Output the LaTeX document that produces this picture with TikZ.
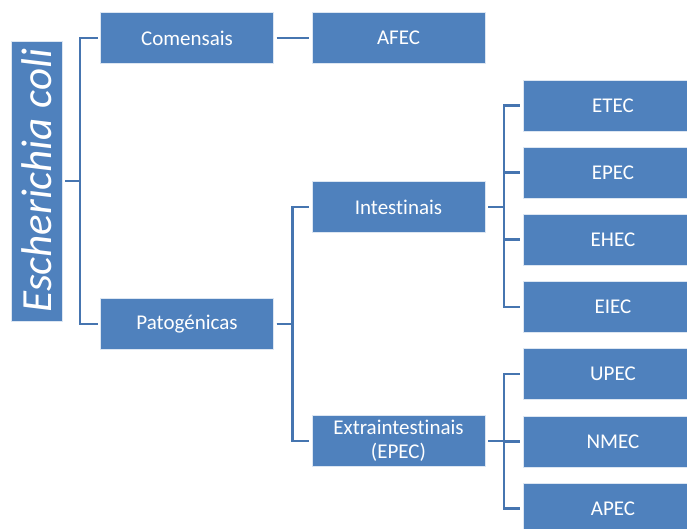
\documentclass[tikz,border=0pt]{standalone}
\usepackage{fontspec}
\setmainfont{Carlito}[Ligatures=NoCommon]
\usepackage{tikz}
\usetikzlibrary{positioning}
\definecolor{boxblue}{HTML}{4F81BD}
\definecolor{linkblue}{HTML}{4675B0}

\begin{document}
\begin{tikzpicture}[x=1pt,y=-1pt,
  box/.style={fill=boxblue,draw=white!80!boxblue,line width=0.6pt,text=white,
    minimum width=173pt,minimum height=51pt,outer sep=3pt,inner sep=0pt,
    align=center,font=\fontsize{21}{24}\selectfont},
  leaf/.style={box,minimum width=180pt},
  link/.style={draw=linkblue,line width=2.5pt}]
  \useasboundingbox (0,0) rectangle (687,528);
  \def\gap{16}

  \node[box,minimum width=51pt,minimum height=280pt] (root) at (36.5,181)
    {\rotatebox{90}{\fontsize{43}{46}\selectfont\itshape Escherichia coli}};
  \node[box] (com) at (187,38) {Comensais};
  \node[box] (afec) at (398.5,38) {AFEC};
  \node[box] (pat) at (187,324) {Patogénicas};
  \node[box] (int) at (398.5,207) {Intestinais};
  \node[box] (ext) at (398.5,441) {Extraintestinais\\(EPEC)};

  \foreach \name/\y in {ETEC/105.5,EPEC/172.5,EHEC/239.5,EIEC/307} {
    \node[leaf] (\name) at (613,\y) {\name};
    \draw[link] (int.east) -- +(\gap,0) |- (\name.west);
  }
  \foreach \name/\y in {UPEC/374,NMEC/441.5,APEC/508.5} {
    \node[leaf] (\name) at (613,\y) {\name};
    \draw[link] (ext.east) -- +(\gap,0) |- (\name.west);
  }

  \draw[link] (root.east) -- +(15,0) |- (com.west);
  \draw[link] (root.east) -- +(15,0) |- (pat.west);
  \draw[link] (com) -- (afec);
  \draw[link] (pat.east) -- +(\gap,0) |- (int.west);
  \draw[link] (pat.east) -- +(\gap,0) |- (ext.west);
\end{tikzpicture}
\end{document}
